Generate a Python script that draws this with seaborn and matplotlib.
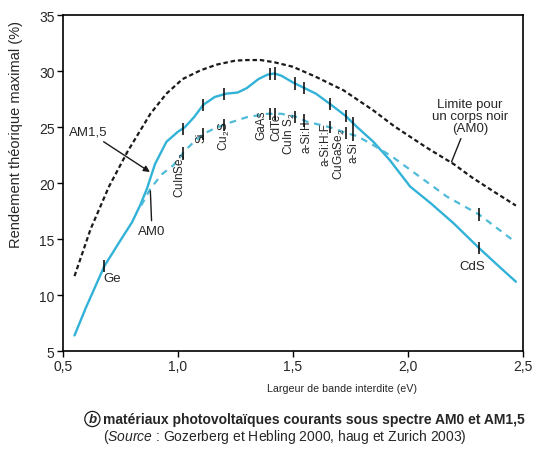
import numpy as np
import matplotlib
matplotlib.use("Agg")
import matplotlib.pyplot as plt
import seaborn as sns

# Limite corps noir (AM0), courbe noire en tirets
bb_x = [0.55, 0.58, 0.62, 0.70, 0.78, 0.88, 0.95, 1.02, 1.10, 1.17, 1.25, 1.30,
        1.36, 1.42, 1.50, 1.60, 1.72, 1.85, 1.94, 2.08, 2.20, 2.28, 2.37, 2.47]
bb_y = [11.7, 13.5, 15.9, 19.7, 22.8, 26.2, 28.0, 29.3, 30.1, 30.6, 30.95, 31.0,
        31.0, 30.8, 30.4, 29.5, 28.3, 26.5, 25.1, 23.2, 21.7, 20.5, 19.3, 18.0]

# Spectre AM1,5 (trait plein cyan)
am15_x = [0.55, 0.60, 0.68, 0.75, 0.80, 0.835, 0.865, 0.90, 0.95, 1.00, 1.03, 1.07,
          1.11, 1.16, 1.21, 1.26, 1.30, 1.35, 1.39, 1.42, 1.45, 1.50, 1.55, 1.60,
          1.66, 1.73, 1.78, 1.85, 1.92, 2.01, 2.10, 2.20, 2.31, 2.40, 2.47]
am15_y = [6.4, 8.9, 12.6, 14.9, 16.5, 18.0, 19.5, 21.7, 23.7, 24.6, 25.0, 25.9,
          27.0, 27.7, 28.0, 28.1, 28.5, 29.3, 29.7, 29.8, 29.6, 29.0, 28.5, 28.0,
          27.1, 26.0, 25.0, 23.7, 22.1, 19.7, 18.2, 16.4, 14.2, 12.5, 11.2]

# Spectre AM0 (tirets cyan)
am0_x = [0.84, 0.88, 0.93, 0.98, 1.03, 1.07, 1.11, 1.16, 1.21, 1.30, 1.39, 1.45,
         1.52, 1.56, 1.66, 1.73, 1.78, 1.85, 1.93, 2.05, 2.17, 2.31, 2.40, 2.47]
am0_y = [18.0, 19.5, 20.8, 21.6, 22.9, 23.7, 24.4, 24.9, 25.3, 25.9, 26.2, 26.2,
         25.9, 25.5, 25.0, 24.5, 24.2, 23.4, 22.4, 20.6, 18.8, 17.2, 15.8, 14.7]

# Materiaux et largeur de bande interdite (eV)
mat_names = ["Ge", "CuInSe$_2$", "Si", "Cu$_2$S", "GaAs", "CdTe", "CuIn S$_2$",
             "a-Si:H", "a-Si:H:F", "CuGaSe$_2$", "a-Si", "CdS"]
mat_gap = [0.68, 1.02, 1.11, 1.20, 1.40, 1.42, 1.51, 1.55, 1.66, 1.73, 1.76, 2.31]

x_ticks = [0.5, 1.0, 1.5, 2.0, 2.5]
x_ticklabels = ["0,5", "1,0", "1,5", "2,0", "2,5"]
y_ticks = [5, 10, 15, 20, 25, 30, 35]

# placement des etiquettes verticales (decalage par rapport au trait)
label_dx = [0, -0.007, -0.008, 0.002, -0.039, 0.006, -0.023, 0.011, -0.017, -0.026, 0.005, 0]
label_dy = [0, 0.2, 0.2, 0.4, 0.4, 0.1, 0.4, 0.1, 0.45, 0.5, -0.6, 0]

CYAN = "#33b2d8"
CYAN_LIGHT = "#4fbbd8"
TXT = "#262626"

sns.set_theme(style="white")
plt.rcParams["font.family"] = ["Liberation Sans", "DejaVu Sans"]
plt.rcParams["mathtext.fontset"] = "custom"
plt.rcParams["mathtext.rm"] = "Liberation Sans"
plt.rcParams["mathtext.it"] = "Liberation Sans:italic"
plt.rcParams["mathtext.bf"] = "Liberation Sans:bold"

fig = plt.figure(figsize=(5.34, 4.52), dpi=100)
ax = fig.add_axes([0.118, 0.221, 0.861, 0.743])

sns.lineplot(x=bb_x, y=bb_y, ax=ax, color="#1a1a1a", linewidth=1.6,
             linestyle=(0, (2.0, 1.3)))
sns.lineplot(x=am15_x, y=am15_y, ax=ax, color=CYAN, linewidth=1.7)
sns.lineplot(x=am0_x, y=am0_y, ax=ax, color=CYAN_LIGHT, linewidth=1.6,
             linestyle=(0, (3.0, 2.6)))

# petits traits verticaux sur les courbes
gap = np.array(mat_gap)
y_solid = np.interp(gap, am15_x, am15_y)
ax.vlines(gap, y_solid - 0.55, y_solid + 0.55, color="black", lw=1.1, zorder=5)
on_dash = gap >= am0_x[0]
y_dash = np.interp(gap[on_dash], am0_x, am0_y)
ax.vlines(gap[on_dash], y_dash - 0.55, y_dash + 0.55, color="black", lw=1.1, zorder=5)

# etiquettes verticales sous la courbe AM0
for i in range(1, len(mat_names) - 1):
    yd = np.interp(mat_gap[i], am0_x, am0_y)
    ax.text(mat_gap[i] + label_dx[i], yd + label_dy[i], mat_names[i], rotation=90,
            ha="center", va="top", fontsize=8.5, color=TXT)

ax.text(0.675, 11.5, mat_names[0], ha="left", va="center", fontsize=9.5, color=TXT)
ax.text(2.28, 12.6, mat_names[-1], ha="center", va="center", fontsize=9.5, color=TXT)

# annotations
ax.annotate("AM1,5", xy=(0.878, 21.0), xytext=(0.61, 24.6), ha="center", va="center",
            fontsize=9.5, color=TXT,
            arrowprops=dict(arrowstyle="-|>", color="#1a1a1a", lw=1.0,
                            mutation_scale=9, shrinkA=1, shrinkB=0))
ax.annotate("AM0", xy=(0.88, 19.3), xytext=(0.887, 15.7), ha="center", va="center",
            fontsize=9.5, color=TXT,
            arrowprops=dict(arrowstyle="-", color="#1a1a1a", lw=1.0, shrinkA=1, shrinkB=0))
ax.annotate("Limite pour\nun corps noir\n(AM0)", xy=(2.19, 21.9), xytext=(2.27, 26.0),
            ha="center", va="center", multialignment="center", fontsize=9.5,
            color=TXT, linespacing=1.0,
            arrowprops=dict(arrowstyle="-", color="#1a1a1a", lw=1.0, shrinkA=1, shrinkB=0))

ax.set_xlim(0.5, 2.5)
ax.set_ylim(5, 35)
ax.set_xticks(x_ticks)
ax.set_xticklabels(x_ticklabels)
ax.set_yticks(y_ticks)
ax.tick_params(direction="out", length=4, width=1, colors="black", labelsize=10,
               bottom=True, left=True, labelcolor=TXT, pad=2)
for s in ax.spines.values():
    s.set_visible(True)
    s.set_color("black")
    s.set_linewidth(1.2)

ax.set_ylabel("Rendement théorique maximal (%)", fontsize=10.5, color=TXT)
ax.yaxis.set_label_coords(-0.086, 0.649)
ax.set_xlabel("Largeur de bande interdite (eV)", fontsize=7.7, color=TXT)
ax.xaxis.set_label_coords(0.607, -0.095)

# legende sous le graphique
fig.text(0.173, 1 - 420 / 452, "b", style="italic", fontweight="bold", fontsize=9.5,
         ha="center", va="center", color=TXT,
         bbox=dict(boxstyle="circle,pad=0.12", fc="white", ec="#1a1a1a", lw=0.9))
fig.text(0.193, 1 - 420 / 452,
         "matériaux photovoltaïques courants sous spectre AM0 et AM1,5",
         fontweight="bold", fontsize=10, va="center", color=TXT)
fig.text(0.193, 1 - 437 / 452,
         r"($\mathit{Source}$ : Gozerberg et Hebling 2000, haug et Zurich 2003)",
         fontsize=10, va="center", color=TXT)

fig.savefig("out.png", dpi=100)
